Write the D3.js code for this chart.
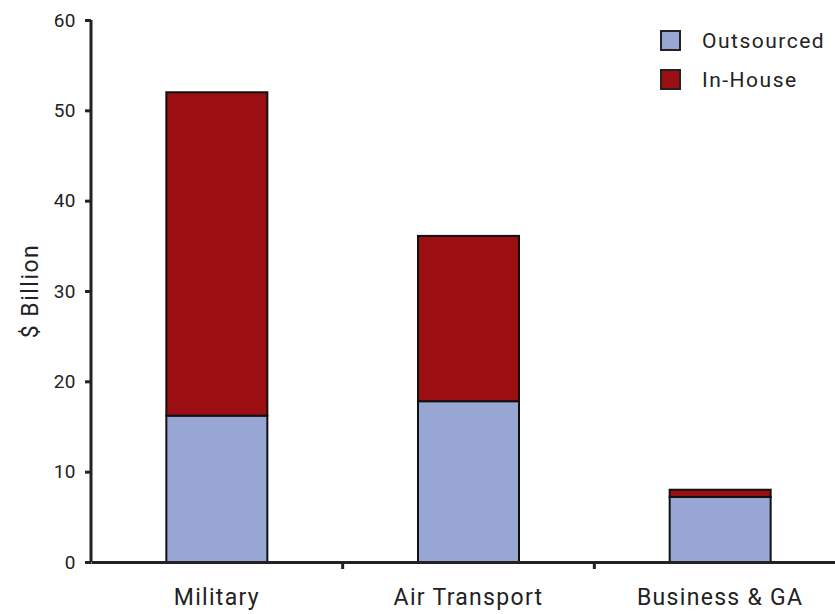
<!DOCTYPE html>
<html>
<head>
<meta charset="utf-8">
<script src="https://cdn.jsdelivr.net/npm/d3@7"></script>
<style>
  body { margin: 0; background: #fff; }
  text { font-family: "Roboto", "DejaVu Sans", sans-serif; fill: #222; }
</style>
</head>
<body>
<svg id="chart"></svg>
<script>
// Chart data
const categories = ["Military", "Air Transport", "Business & GA"];
const outsourced = [16.2, 17.8, 7.2];
const inHouse = [35.8, 18.3, 0.8];
const seriesNames = ["Outsourced", "In-House"];
const yTicks = [0, 10, 20, 30, 40, 50, 60];

const colors = { "Outsourced": "#97a6d3", "In-House": "#9b0e12" };

const svg = d3.select("#chart").attr("width", 835).attr("height", 614);
const margin = { top: 20, right: -11, bottom: 52, left: 91 };
const width = 835 - margin.left - margin.right;
const height = 614 - margin.top - margin.bottom;

const g = svg.append("g")
  .attr("transform", "translate(" + margin.left + "," + margin.top + ")");

// Scales
const x = d3.scaleBand().domain(categories).range([0, width]).paddingInner(0).paddingOuter(0);
const y = d3.scaleLinear().domain([0, 60]).range([height, 0]);

// Stack the two series
const rows = categories.map((c, i) => ({ cat: c, "Outsourced": outsourced[i], "In-House": inHouse[i] }));
const stacked = d3.stack().keys(seriesNames)(rows);

const barW = 101;
g.selectAll(".series")
  .data(stacked)
  .enter().append("g")
  .attr("fill", d => colors[d.key])
  .selectAll("rect")
  .data(d => d)
  .enter().append("rect")
  .attr("x", d => x(d.data.cat) + x.bandwidth() / 2 - barW / 2)
  .attr("width", barW)
  .attr("y", d => y(d[1]))
  .attr("height", d => y(d[0]) - y(d[1]))
  .attr("stroke", "#111")
  .attr("stroke-width", 2);

// Y axis
const yAxis = g.append("g")
  .call(d3.axisLeft(y).tickValues(yTicks).tickSize(6).tickPadding(9));
yAxis.select(".domain").attr("stroke", "#222").attr("stroke-width", 3)
  .attr("d", "M0," + y(60) + "V" + y(0));
yAxis.selectAll(".tick line").attr("stroke", "#222").attr("stroke-width", 3);
yAxis.selectAll(".tick text").style("font-size", "19px").style("letter-spacing", "0.5px").attr("fill", "#222");

// X axis
const xAxis = g.append("g")
  .attr("transform", "translate(0," + height + ")")
  .call(d3.axisBottom(x).tickSize(0).tickPadding(27));
xAxis.select(".domain").attr("stroke", "#222").attr("stroke-width", 3);
xAxis.selectAll(".tick text").style("font-size", "23px").style("letter-spacing", "1.3px").attr("fill", "#222");

// separator ticks between categories
g.selectAll(".sep")
  .data(categories.slice(1))
  .enter().append("line")
  .attr("x1", d => x(d)).attr("x2", d => x(d))
  .attr("y1", height).attr("y2", height + 7)
  .attr("stroke", "#222").attr("stroke-width", 3);

// Y label
svg.append("text")
  .attr("transform", "translate(38," + (margin.top + y(30)) + ") rotate(-90)")
  .attr("text-anchor", "middle")
  .style("font-size", "23px")
  .style("letter-spacing", "1.5px")
  .text("$ Billion");

// Legend
const legend = svg.append("g").attr("transform", "translate(661,31)");
seriesNames.forEach((name, i) => {
  const row = legend.append("g").attr("transform", "translate(0," + i * 39 + ")");
  row.append("rect").attr("width", 19).attr("height", 19)
    .attr("fill", colors[name]).attr("stroke", "#222").attr("stroke-width", 2);
  row.append("text").attr("x", 41).attr("y", 10).attr("dy", "0.35em")
    .style("font-size", "21px").style("letter-spacing", "1.5px").text(name);
});
</script>
</body>
</html>
